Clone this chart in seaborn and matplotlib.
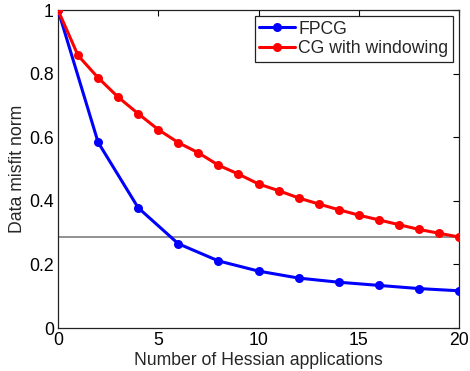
import matplotlib
matplotlib.use("Agg")
import matplotlib.pyplot as plt
import seaborn as sns
import pandas as pd

# Data misfit norm against number of Hessian applications
fpcg_x = [0, 2, 4, 6, 8, 10, 12, 14, 16, 18, 20]
fpcg_y = [1.0, 0.584, 0.378, 0.265, 0.211, 0.179, 0.157, 0.144, 0.134, 0.124, 0.117]

cgw_x = list(range(0, 21))
cgw_y = [1.0, 0.857, 0.787, 0.726, 0.674, 0.624, 0.583, 0.551, 0.512, 0.484,
         0.453, 0.432, 0.409, 0.390, 0.372, 0.355, 0.340, 0.325, 0.310, 0.298, 0.286]

target_level = 0.286

series_names = ["FPCG", "CG with windowing"]
series_colors = ["#0000ff", "#ff0000"]

x_ticks = [0, 5, 10, 15, 20]
y_ticks = [0, 0.2, 0.4, 0.6, 0.8, 1.0]
y_tick_labels = ["0", "0.2", "0.4", "0.6", "0.8", "1"]

sns.set_style("white")
plt.rcParams["font.family"] = ["Liberation Sans", "DejaVu Sans"]

df = pd.concat([
    pd.DataFrame({"x": fpcg_x, "y": fpcg_y, "method": series_names[0]}),
    pd.DataFrame({"x": cgw_x, "y": cgw_y, "method": series_names[1]}),
])

fig = plt.figure(figsize=(4.70, 3.71), dpi=100)
ax = fig.add_axes([0.1234, 0.1159, 0.8532, 0.8571])

ax.axhline(target_level, color="#7f7f7f", lw=1.2, zorder=1)

sns.lineplot(data=df, x="x", y="y", hue="method", hue_order=series_names,
             palette=series_colors, marker="o", markersize=6.5,
             markeredgewidth=0, linewidth=2.2, ax=ax, zorder=3)

ax.set_xlim(0, 20)
ax.set_ylim(0, 1)
ax.set_xticks(x_ticks)
ax.set_xticklabels([str(t) for t in x_ticks])
ax.set_yticks(y_ticks)
ax.set_yticklabels(y_tick_labels)
ax.tick_params(direction="in", length=4, width=0.8, top=True, right=True,
               labelsize=12.7, colors="black", pad=3)
ax.set_xlabel("Number of Hessian applications", fontsize=12.7, labelpad=2)
ax.set_ylabel("Data misfit norm", fontsize=12.7, labelpad=2)
for s in ax.spines.values():
    s.set_color("#222222")
    s.set_linewidth(0.9)

leg = ax.legend(loc="upper right", fontsize=12.7, frameon=True, fancybox=False,
                edgecolor="#222222", framealpha=1, handlelength=2.0,
                handletextpad=0.2, borderpad=0.25, labelspacing=0.15,
                borderaxespad=0.35)
leg.get_frame().set_linewidth(0.9)

fig.savefig("out.png", dpi=100)
